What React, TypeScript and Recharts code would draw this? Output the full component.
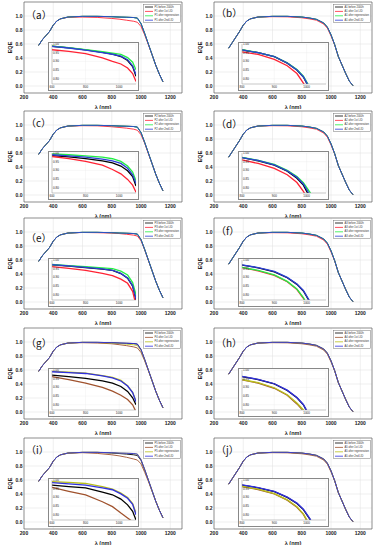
import React from 'react';
import { LineChart, Line, XAxis, YAxis, CartesianGrid, ReferenceArea, Legend } from 'recharts';

// wavelength grid of the main EQE curves (nm)
const WL = [300, 325, 350, 375, 400, 425, 450, 500, 600, 700, 800, 850, 900, 950, 975, 1000, 1025, 1050, 1075, 1100, 1125, 1150];

// P cells (left column)
const P_MAIN = [0.58, 0.66, 0.72, 0.78, 0.87, 0.93, 0.96, 0.985, 0.995, 0.995, 0.99, 0.985, 0.982, 0.978, 0.97, 0.89, 0.75, 0.6, 0.45, 0.3, 0.17, 0.06];
const P1_LID = [0.58, 0.66, 0.72, 0.78, 0.87, 0.93, 0.96, 0.982, 0.985, 0.98, 0.965, 0.955, 0.94, 0.925, 0.91, 0.85, 0.73, 0.59, 0.45, 0.3, 0.17, 0.06];
const P2_LID = [0.58, 0.66, 0.72, 0.78, 0.87, 0.93, 0.96, 0.984, 0.99, 0.988, 0.975, 0.965, 0.955, 0.94, 0.925, 0.86, 0.74, 0.59, 0.45, 0.3, 0.17, 0.06];
const P3_LID = [0.58, 0.66, 0.72, 0.78, 0.87, 0.93, 0.96, 0.985, 0.993, 0.99, 0.985, 0.978, 0.968, 0.955, 0.942, 0.875, 0.745, 0.595, 0.45, 0.3, 0.17, 0.06];
const P4_LID = [0.58, 0.66, 0.72, 0.78, 0.87, 0.93, 0.96, 0.984, 0.99, 0.985, 0.975, 0.962, 0.948, 0.93, 0.915, 0.85, 0.73, 0.59, 0.45, 0.3, 0.17, 0.06];
const P4_REG = [0.58, 0.66, 0.72, 0.78, 0.87, 0.93, 0.96, 0.985, 0.995, 0.993, 0.985, 0.978, 0.97, 0.96, 0.95, 0.88, 0.745, 0.6, 0.45, 0.3, 0.17, 0.06];
const P5_LID = [0.58, 0.66, 0.72, 0.78, 0.87, 0.93, 0.96, 0.982, 0.99, 0.98, 0.96, 0.945, 0.925, 0.9, 0.885, 0.83, 0.71, 0.58, 0.44, 0.3, 0.17, 0.06];
const P5_BLK = [0.58, 0.66, 0.72, 0.78, 0.87, 0.93, 0.96, 0.985, 0.995, 0.995, 0.985, 0.978, 0.97, 0.96, 0.95, 0.88, 0.745, 0.6, 0.45, 0.3, 0.17, 0.06];

// A cells (right column)
const A_MAIN = [0.54, 0.62, 0.7, 0.78, 0.87, 0.93, 0.96, 0.985, 0.995, 0.995, 0.985, 0.972, 0.952, 0.9, 0.84, 0.73, 0.59, 0.42, 0.3, 0.18, 0.07, 0.005];
const A_LID = [0.54, 0.62, 0.7, 0.78, 0.87, 0.93, 0.96, 0.985, 0.99, 0.988, 0.975, 0.96, 0.94, 0.885, 0.825, 0.715, 0.585, 0.42, 0.3, 0.18, 0.07, 0.005];

// insets
const INSET_P_WL = [600, 700, 800, 900, 960, 1010, 1050, 1080, 1100];
const INSET_A_WL = [800, 850, 900, 940, 970, 990, 1010, 1030];

const IA_BLK = [0.987, 0.978, 0.966, 0.952, 0.942, 0.928, 0.905, 0.87, 0.814];
const IA_RED = [0.967, 0.957, 0.945, 0.92, 0.9, 0.885, 0.862, 0.83, 0.785];
const IA_GRN = [0.988, 0.979, 0.968, 0.956, 0.948, 0.94, 0.922, 0.895, 0.852];
const IA_BLU = [0.986, 0.977, 0.965, 0.951, 0.941, 0.93, 0.91, 0.875, 0.825];

const IC_BLK = [0.985, 0.978, 0.968, 0.955, 0.943, 0.925, 0.898, 0.865, 0.81];
const IC_RED = [0.98, 0.968, 0.952, 0.93, 0.905, 0.88, 0.848, 0.815, 0.775];
const IC_GRN = [0.995, 0.99, 0.984, 0.976, 0.967, 0.952, 0.925, 0.89, 0.84];
const IC_BLU = [0.99, 0.984, 0.976, 0.965, 0.955, 0.94, 0.912, 0.875, 0.825];

const IE_BLK = [0.972, 0.965, 0.957, 0.948, 0.94, 0.922, 0.895, 0.85, 0.77];
const IE_RED = [0.962, 0.952, 0.94, 0.923, 0.91, 0.89, 0.866, 0.82, 0.74];
const IE_GRN = [0.974, 0.968, 0.962, 0.955, 0.95, 0.936, 0.914, 0.87, 0.8];
const IE_BLU = [0.973, 0.966, 0.958, 0.949, 0.941, 0.923, 0.897, 0.853, 0.775];

const IG_BLK = [0.97, 0.962, 0.952, 0.938, 0.925, 0.905, 0.877, 0.84, 0.8];
const IG_BRN = [0.962, 0.945, 0.924, 0.9, 0.878, 0.855, 0.83, 0.8, 0.76];
const IG_OLV = [0.992, 0.987, 0.982, 0.968, 0.957, 0.94, 0.91, 0.872, 0.82];
const IG_BLU = [0.99, 0.985, 0.98, 0.966, 0.955, 0.937, 0.908, 0.87, 0.818];

const II_BLK = [0.97, 0.962, 0.955, 0.93, 0.915, 0.89, 0.857, 0.82, 0.77];
const II_BRN = [0.958, 0.935, 0.914, 0.875, 0.847, 0.81, 0.782, 0.76, 0.74];
const II_OLV = [0.99, 0.986, 0.98, 0.962, 0.948, 0.925, 0.9, 0.865, 0.81];
const II_BLU = [0.985, 0.978, 0.97, 0.955, 0.944, 0.92, 0.895, 0.86, 0.8];

const IB_BLK = [0.966, 0.95, 0.927, 0.89, 0.85, 0.81, 0.74, 0.68];
const IB_RED = [0.955, 0.94, 0.912, 0.875, 0.83, 0.775, 0.71, 0.65];
const IB_GRN = [0.967, 0.951, 0.928, 0.892, 0.853, 0.815, 0.75, 0.69];
const IB_BLU = [0.966, 0.95, 0.928, 0.891, 0.851, 0.812, 0.745, 0.685];

const ID_BLK = [0.973, 0.955, 0.93, 0.895, 0.855, 0.815, 0.745, 0.68];
const ID_RED = [0.96, 0.94, 0.912, 0.875, 0.83, 0.78, 0.71, 0.65];
const ID_GRN = [0.975, 0.958, 0.934, 0.9, 0.865, 0.83, 0.775, 0.71];
const ID_BLU = [0.974, 0.957, 0.932, 0.898, 0.86, 0.822, 0.76, 0.695];

const IF_BLK = [0.971, 0.955, 0.932, 0.898, 0.86, 0.822, 0.758, 0.69];
const IF_RED = [0.956, 0.938, 0.912, 0.875, 0.83, 0.78, 0.71, 0.65];
const IF_GRN = [0.958, 0.94, 0.914, 0.877, 0.833, 0.784, 0.715, 0.655];
const IF_BLU = [0.972, 0.956, 0.934, 0.9, 0.862, 0.825, 0.762, 0.695];

const IH_BLK = [0.962, 0.945, 0.92, 0.882, 0.84, 0.8, 0.73, 0.67];
const IH_BRN = [0.943, 0.925, 0.895, 0.855, 0.805, 0.765, 0.7, 0.64];
const IH_OLV = [0.945, 0.927, 0.898, 0.858, 0.81, 0.77, 0.705, 0.645];
const IH_BLU = [0.963, 0.946, 0.921, 0.884, 0.842, 0.802, 0.733, 0.672];

const IJ_BLK = [0.971, 0.955, 0.933, 0.9, 0.865, 0.83, 0.775, 0.71];
const IJ_BRN = [0.962, 0.945, 0.92, 0.884, 0.843, 0.802, 0.735, 0.67];
const IJ_OLV = [0.964, 0.947, 0.922, 0.886, 0.846, 0.805, 0.74, 0.675];
const IJ_BLU = [0.972, 0.956, 0.934, 0.902, 0.867, 0.832, 0.778, 0.712];

const X_TICKS = [200, 400, 600, 800, 1000, 1200];
const Y_TICKS = [0, 0.2, 0.4, 0.6, 0.8, 1.0];
const INSET_Y_TICKS = [0.8, 0.85, 0.9, 0.95, 1.0];
const SUFFIX = ['before 2000h', 'after 1st LID', 'after regeneration', 'after 2nd LID'];

const COLORS_1 = ['#000000', '#ff2233', '#22ee44', '#2b3fd6'];
const COLORS_2 = ['#000000', '#a0522d', '#b8bf1a', '#3030e0'];

const FONT = '"Liberation Sans", Arial, sans-serif';

type PanelDef = {
  tag: string;
  cell: string;
  kind: 'P' | 'A';
  colors: string[];
  main: number[][];
  inset: number[][];
  tagY: number;
};

const PANELS: PanelDef[] = [
  { tag: 'a', cell: 'P1', kind: 'P', colors: COLORS_1, main: [P_MAIN, P1_LID, P_MAIN, P_MAIN], inset: [IA_BLK, IA_RED, IA_GRN, IA_BLU], tagY: 15 },
  { tag: 'b', cell: 'A1', kind: 'A', colors: COLORS_1, main: [A_MAIN, A_LID, A_MAIN, A_MAIN], inset: [IB_BLK, IB_RED, IB_GRN, IB_BLU], tagY: 13 },
  { tag: 'c', cell: 'P2', kind: 'P', colors: COLORS_1, main: [P_MAIN, P2_LID, P_MAIN, P_MAIN], inset: [IC_BLK, IC_RED, IC_GRN, IC_BLU], tagY: 14 },
  { tag: 'd', cell: 'A2', kind: 'A', colors: COLORS_1, main: [A_MAIN, A_LID, A_MAIN, A_MAIN], inset: [ID_BLK, ID_RED, ID_GRN, ID_BLU], tagY: 15 },
  { tag: 'e', cell: 'P3', kind: 'P', colors: COLORS_1, main: [P_MAIN, P3_LID, P_MAIN, P_MAIN], inset: [IE_BLK, IE_RED, IE_GRN, IE_BLU], tagY: 22 },
  { tag: 'f', cell: 'A3', kind: 'A', colors: COLORS_1, main: [A_MAIN, A_LID, A_MAIN, A_MAIN], inset: [IF_BLK, IF_RED, IF_GRN, IF_BLU], tagY: 15 },
  { tag: 'g', cell: 'P4', kind: 'P', colors: COLORS_2, main: [P_MAIN, P4_LID, P4_REG, P_MAIN], inset: [IG_BLK, IG_BRN, IG_OLV, IG_BLU], tagY: 17 },
  { tag: 'h', cell: 'A4', kind: 'A', colors: COLORS_2, main: [A_MAIN, A_LID, A_MAIN, A_MAIN], inset: [IH_BLK, IH_BRN, IH_OLV, IH_BLU], tagY: 17 },
  { tag: 'i', cell: 'P5', kind: 'P', colors: COLORS_2, main: [P5_BLK, P5_LID, P_MAIN, P_MAIN], inset: [II_BLK, II_BRN, II_OLV, II_BLU], tagY: 14 },
  { tag: 'j', cell: 'A5', kind: 'A', colors: COLORS_2, main: [A_MAIN, A_LID, A_MAIN, A_MAIN], inset: [IJ_BLK, IJ_BRN, IJ_OLV, IJ_BLU], tagY: 14 },
];

const COL_X = [0, 190];
const ROW_Y = [0, 109, 216, 326, 436];

function LegendBox({ names, colors }: { names: string[]; colors: string[] }) {
  return (
    <svg width={38} height={19} style={{ display: 'block' }}>
      <rect x={0.3} y={0.3} width={37.4} height={18.4} fill="#fff" stroke="#777" strokeWidth={0.5} />
      {names.map((n, i) => (
        <g key={n}>
          <line x1={2} x2={10} y1={3 + i * 4.4} y2={3 + i * 4.4} stroke={colors[i]} strokeWidth={0.8} />
          <text x={11.5} y={3 + i * 4.4} fontSize={2.6} dominantBaseline="central" fill="#333" fontFamily={FONT}>
            {n}
          </text>
        </g>
      ))}
    </svg>
  );
}

function Panel({ p, left, top }: { p: PanelDef; left: number; top: number }) {
  const rows = WL.map((wl, i) => ({ wl, s0: p.main[0][i], s1: p.main[1][i], s2: p.main[2][i], s3: p.main[3][i] }));
  const insetWl = p.kind === 'P' ? INSET_P_WL : INSET_A_WL;
  const insetRows = insetWl.map((wl, i) => ({ wl, s0: p.inset[0][i], s1: p.inset[1][i], s2: p.inset[2][i], s3: p.inset[3][i] }));
  const insetDomain = p.kind === 'P' ? [600, 1100] : [800, 1060];
  const insetTicks = p.kind === 'P' ? [600, 800, 1000] : [800, 900, 1000];
  const names = SUFFIX.map((s) => `${p.cell} ${s}`);
  const keys = ['s0', 's1', 's2', 's3'];

  return (
    <div style={{ position: 'absolute', left, top, width: 190, height: 109 }}>
      <LineChart width={190} height={109} data={rows} margin={{ top: 2, right: 8, bottom: 0, left: 0 }}>
        <CartesianGrid stroke="#dedede" strokeWidth={0.5} />
        <XAxis
          dataKey="wl"
          type="number"
          domain={[200, 1280]}
          ticks={X_TICKS}
          interval={0}
          height={16}
          tickSize={0}
          tickMargin={2}
          axisLine={false}
          tick={{ fontSize: 5, fontWeight: 700, fill: '#222', fontFamily: FONT }}
          label={{ value: 'λ (nm)', position: 'insideBottom', offset: 0, fontSize: 5.5, fontWeight: 700, fill: '#222', fontFamily: FONT }}
        />
        <YAxis
          type="number"
          domain={[-0.1, 1.2]}
          ticks={Y_TICKS}
          interval={0}
          width={24}
          tickSize={0}
          tickMargin={1.5}
          axisLine={false}
          tickFormatter={(v: number) => v.toFixed(1)}
          tick={{ fontSize: 5, fontWeight: 700, fill: '#222', fontFamily: FONT }}
          label={{ value: 'EQE', angle: -90, position: 'insideLeft', offset: 10, fontSize: 5.5, fontWeight: 700, fill: '#222', fontFamily: FONT, style: { textAnchor: 'middle' } }}
        />
        <ReferenceArea x1={200} x2={1280} y1={-0.1} y2={1.2} fill="none" stroke="#555" strokeWidth={0.6} />
        {keys.map((k, i) => (
          <Line key={k} dataKey={k} stroke={p.colors[i]} strokeWidth={0.9} dot={false} isAnimationActive={false} />
        ))}
        <Legend
          layout="horizontal"
          verticalAlign="middle"
          align="center"
          wrapperStyle={{ left: 143, top: 4, width: 38, height: 19 }}
          content={() => <LegendBox names={names} colors={p.colors} />}
        />
      </LineChart>

      <div style={{ position: 'absolute', left: 49, top: 43, width: 89, height: 47, background: '#fff', outline: '0.7px solid #888' }}>
        <LineChart width={89} height={47} data={insetRows} margin={{ top: 1, right: 2, bottom: 0, left: 3 }}>
          <CartesianGrid stroke="#ececec" strokeWidth={0.4} />
          <XAxis
            dataKey="wl"
            type="number"
            domain={insetDomain}
            allowDataOverflow
            ticks={insetTicks}
            interval={0}
            height={6}
            tickSize={0}
            tickMargin={1.5}
            stroke="#999"
            strokeWidth={0.5}
            tick={{ fontSize: 3, fill: '#222', fontFamily: FONT }}
          />
          <YAxis
            type="number"
            domain={[0.77, 1.0]}
            allowDataOverflow
            ticks={INSET_Y_TICKS}
            interval={0}
            width={1}
            mirror
            tickSize={0}
            tickMargin={1}
            stroke="#999"
            strokeWidth={0.5}
            tickFormatter={(v: number) => v.toFixed(2)}
            tick={{ fontSize: 3, fill: '#222', fontFamily: FONT }}
          />
          {keys.map((k, i) => (
            <Line key={k} dataKey={k} stroke={p.colors[i]} strokeWidth={1.3} dot={false} isAnimationActive={false} />
          ))}
        </LineChart>
      </div>

      <span
        style={{
          position: 'absolute',
          left: 26,
          top: p.tagY - 7,
          fontSize: 10,
          lineHeight: '14px',
          fontFamily: '"Noto Sans CJK SC", sans-serif',
          color: '#111',
          whiteSpace: 'nowrap',
        }}
      >
        （{p.tag}）
      </span>
    </div>
  );
}

export default function App() {
  return (
    <div style={{ position: 'absolute', left: 0, top: 0, width: 385, height: 550, background: '#fff', overflow: 'hidden' }}>
      {PANELS.map((p, i) => (
        <Panel key={p.tag} p={p} left={COL_X[i % 2]} top={ROW_Y[Math.floor(i / 2)]} />
      ))}
    </div>
  );
}
